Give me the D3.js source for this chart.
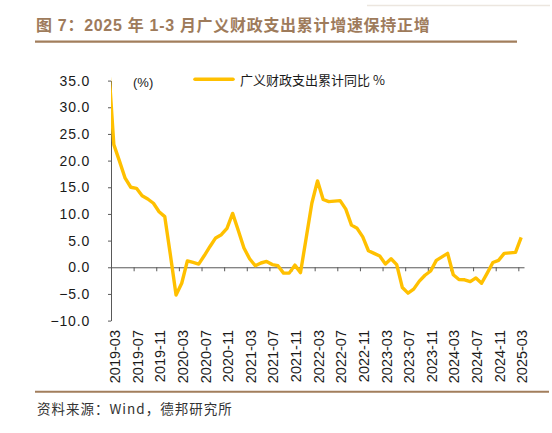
<!DOCTYPE html>
<html>
<head>
<meta charset="utf-8">
<script src="https://cdn.jsdelivr.net/npm/d3@7"></script>
<style>
  body { margin: 0; background: #fff; }
  svg { display: block; }
</style>
</head>
<body>
<svg width="552" height="433"></svg>
<script>
// Months of the series (2019-02 sits left of the axis start and gets clipped, as in the source)
const months = [
  "2019-02", "2019-03", "2019-04", "2019-05", "2019-06", "2019-07", "2019-08", "2019-09", "2019-10", "2019-11", "2019-12",
  "2020-01", "2020-02", "2020-03", "2020-04", "2020-05", "2020-06", "2020-07", "2020-08", "2020-09", "2020-10", "2020-11", "2020-12",
  "2021-01", "2021-02", "2021-03", "2021-04", "2021-05", "2021-06", "2021-07", "2021-08", "2021-09", "2021-10", "2021-11", "2021-12",
  "2022-01", "2022-02", "2022-03", "2022-04", "2022-05", "2022-06", "2022-07", "2022-08", "2022-09", "2022-10", "2022-11", "2022-12",
  "2023-01", "2023-02", "2023-03", "2023-04", "2023-05", "2023-06", "2023-07", "2023-08", "2023-09", "2023-10", "2023-11", "2023-12",
  "2024-01", "2024-02", "2024-03", "2024-04", "2024-05", "2024-06", "2024-07", "2024-08", "2024-09", "2024-10", "2024-11", "2024-12",
  "2025-01", "2025-02", "2025-03"
];

// 广义财政支出累计同比 (%)
const spendingYoY = [
  39.0, 23.0, 19.9, 16.7, 15.0, 14.8, 13.4, 12.8, 12.0, 10.4, 9.5,
  2.3, -5.2, -3.0, 1.2, 0.9, 0.6, 2.2, 3.9, 5.5, 6.1, 7.3, 10.1,
  6.9, 3.6, 1.6, 0.3, 0.8, 1.1, 0.5, 0.3, -1.1, -1.1, 0.4, -1.0,
  5.5, 12.0, 16.2, 12.7, 12.3, 12.4, 12.5, 10.9, 7.9, 7.3, 5.7, 3.1,
  2.6, 2.1, 0.6, 1.6, 0.5, -3.8, -4.85, -4.1, -2.6, -1.5, -0.7, 1.3,
  1.95, 2.6, -1.4, -2.3, -2.35, -2.7, -2.0, -3.0, -1.1, 0.9, 1.3, 2.6,
  2.7, 2.8, 5.6
];

const xTickLabels = [
  "2019-03", "2019-07", "2019-11", "2020-03", "2020-07", "2020-11", "2021-03",
  "2021-07", "2021-11", "2022-03", "2022-07", "2022-11", "2023-03", "2023-07",
  "2023-11", "2024-03", "2024-07", "2024-11", "2025-03"
];
const yTicks = [-10, -5, 0, 5, 10, 15, 20, 25, 30, 35];

const seriesName = "广义财政支出累计同比 %";
const titleText = "图 7：2025 年 1-3 月广义财政支出累计增速保持正增";
const sourceText = "资料来源：Wind，德邦研究所";

const svg = d3.select("svg");
const brown = "#a27e5c";
const axisColor = "#595959";
const lineColor = "#ffc000";

// title + rules
svg.append("line")
    .attr("x1", 367).attr("x2", 550).attr("y1", 5.5).attr("y2", 5.5)
    .attr("stroke", "#ece6df").attr("stroke-width", 1.5);

svg.append("text")
    .attr("x", 36).attr("y", 30.5)
    .attr("fill", "#9e7b5b")
    .style("font-family", "'Liberation Sans', 'Noto Sans CJK SC', sans-serif")
    .style("font-size", "16px")
    .style("font-weight", "bold")
    .style("letter-spacing", "0.7px")
    .text(titleText);

svg.append("line")
    .attr("x1", 35).attr("x2", 517).attr("y1", 41.7).attr("y2", 41.7)
    .attr("stroke", brown).attr("stroke-width", 2.2);

svg.append("line")
    .attr("x1", 35).attr("x2", 549).attr("y1", 391.7).attr("y2", 391.7)
    .attr("stroke", brown).attr("stroke-width", 2);

svg.append("text")
    .attr("x", 37).attr("y", 414)
    .attr("fill", "#333")
    .style("font-family", "'Noto Sans CJK SC', sans-serif")
    .style("font-size", "13.5px")
    .style("letter-spacing", "1px")
    .text(sourceText);

// scales: months are slots, the point sits in the middle of its slot
const x = d3.scaleLinear().domain([0, 73]).range([111, 524]);
const y = d3.scaleLinear().domain([-10, 35]).range([320.6, 80.6]);
const xOf = i => x(i - 1 + 0.5); // index 1 = 2019-03 = slot 0

// clip to the plot area
svg.append("defs").append("clipPath").attr("id", "plot")
  .append("rect").attr("x", 111).attr("y", 0).attr("width", 413).attr("height", 433);

// y axis
const yAxis = svg.append("g")
    .attr("transform", "translate(111,0)")
    .call(d3.axisLeft(y).tickValues(yTicks).tickSize(3).tickPadding(18).tickSizeOuter(0)
        .tickFormat(d => d3.format(".1f")(d).replace("-", "−")));
yAxis.select(".domain").attr("stroke", axisColor);
yAxis.selectAll(".tick line").attr("stroke", axisColor);
yAxis.selectAll("text")
    .attr("fill", "#1a1a1a")
    .style("font-family", "'Liberation Sans', Arial, sans-serif")
    .style("font-size", "14px")
    .style("letter-spacing", "0.8px");

// x axis on the zero line
const xAxis = svg.append("g")
    .attr("transform", `translate(0,${y(0)})`)
    .call(d3.axisBottom(x).tickValues(xTickLabels.map((d, i) => i * 4)).tickSize(4).tickSizeOuter(0)
        .tickFormat((d, i) => xTickLabels[i]));
xAxis.select(".domain").attr("stroke", axisColor);
xAxis.selectAll(".tick line").attr("stroke", axisColor);
xAxis.selectAll("text")
    .attr("x", 0).attr("y", 0).attr("dy", 0)
    .attr("transform", `translate(8.5,${330 - y(0)}) rotate(-90)`)
    .attr("text-anchor", "end")
    .attr("fill", "#1a1a1a")
    .style("font-family", "'Liberation Sans', Arial, sans-serif")
    .style("font-size", "14.5px");

// the series
const line = d3.line()
    .x((d, i) => xOf(i))
    .y(d => y(d));

svg.append("path")
    .datum(spendingYoY)
    .attr("clip-path", "url(#plot)")
    .attr("fill", "none")
    .attr("stroke", lineColor)
    .attr("stroke-width", 3.4)
    .attr("stroke-linejoin", "round")
    .attr("d", line);

// unit + legend
svg.append("text")
    .attr("x", 133).attr("y", 87)
    .attr("fill", "#1a1a1a")
    .style("font-family", "'Liberation Sans', 'Noto Sans CJK SC', sans-serif")
    .style("font-size", "13px")
    .text("(%)");

svg.append("line")
    .attr("x1", 195).attr("x2", 233).attr("y1", 79.3).attr("y2", 79.3)
    .attr("stroke", lineColor).attr("stroke-width", 3.6).attr("stroke-linecap", "round");

svg.append("text")
    .attr("x", 240).attr("y", 85)
    .attr("fill", "#1a1a1a")
    .style("font-family", "'Noto Sans CJK SC', sans-serif")
    .style("font-size", "13px")
    .text(seriesName);
</script>
</body>
</html>
